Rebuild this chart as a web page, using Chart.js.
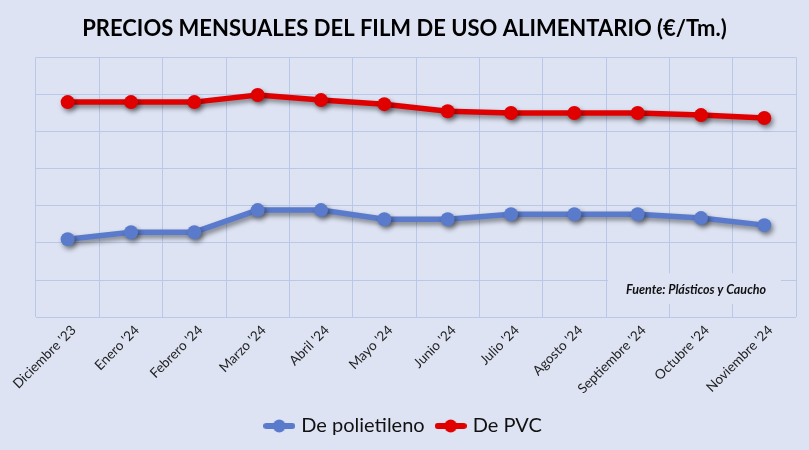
<!DOCTYPE html>
<html>
<head>
<meta charset="utf-8">
<script src="https://cdn.jsdelivr.net/npm/chart.js@4.4.0/dist/chart.umd.min.js"></script>
<style>
  html, body { margin: 0; padding: 0; background: #dde3f3; }
  #wrap { width: 809px; height: 450px; }
</style>
</head>
<body>
<div id="wrap"><canvas id="filmChart"></canvas></div>
<script>
// Months shown on the x axis
const months = ["Diciembre '23", "Enero '24", "Febrero '24", "Marzo '24", "Abril '24", "Mayo '24",
  "Junio '24", "Julio '24", "Agosto '24", "Septiembre '24", "Octubre '24", "Noviembre '24"];

// Prices (€/Tm.)
const polietileno = [420, 458, 458, 577, 577, 528, 528, 555, 555, 555, 534, 496];
const pvc = [1159, 1159, 1159, 1197, 1170, 1148, 1110, 1100, 1100, 1100, 1089, 1073];

const yMin = 0;
const yMax = 1400;
const yStep = 200;

const bg = '#dde3f3';
const blue = '#5a7acb';
const red = '#e00000';

// Small legend marker: thick line with a dot in the middle
function legendMarker(color) {
  const c = document.createElement('canvas');
  c.width = 32;
  c.height = 14;
  const g = c.getContext('2d');
  g.strokeStyle = color;
  g.lineWidth = 6;
  g.lineCap = 'round';
  g.beginPath();
  g.moveTo(3, 7);
  g.lineTo(29, 7);
  g.stroke();
  g.fillStyle = color;
  g.beginPath();
  g.arc(16, 7, 6.5, 0, Math.PI * 2);
  g.fill();
  return c;
}

// Soft shadow under the lines and markers
const shadowPlugin = {
  id: 'shadow',
  beforeDatasetsDraw(chart) {
    const ctx = chart.ctx;
    ctx.save();
    ctx.shadowColor = 'rgba(0,0,0,0.45)';
    ctx.shadowBlur = 5;
    ctx.shadowOffsetX = 2;
    ctx.shadowOffsetY = 3;
  },
  afterDatasetsDraw(chart) {
    chart.ctx.restore();
  }
};

// Source note drawn inside the plot area
const sourcePlugin = {
  id: 'source',
  afterDatasetsDraw(chart) {
    const ctx = chart.ctx;
    const area = chart.chartArea;
    ctx.save();
    ctx.fillStyle = bg;
    ctx.fillRect(area.right - 188, area.bottom - 44, 173, 31);
    ctx.fillStyle = '#111';
    ctx.font = 'italic bold 12.5px Lato';
    ctx.textBaseline = 'middle';
    ctx.fillText('Fuente: Plásticos y Caucho', area.right - 170, area.bottom - 27);
    ctx.restore();
  }
};

const ctx = document.getElementById('filmChart').getContext('2d');
new Chart(ctx, {
  type: 'line',
  data: {
    labels: months,
    datasets: [
      {
        label: 'De polietileno',
        data: polietileno,
        borderColor: blue,
        backgroundColor: blue,
        pointStyle: 'circle',
        borderWidth: 5.5,
        pointRadius: 7,
        pointHoverRadius: 7,
        pointBorderWidth: 0,
        tension: 0
      },
      {
        label: 'De PVC',
        data: pvc,
        borderColor: red,
        backgroundColor: red,
        pointStyle: 'circle',
        borderWidth: 5.5,
        pointRadius: 7,
        pointHoverRadius: 7,
        pointBorderWidth: 0,
        tension: 0
      }
    ]
  },
  options: {
    responsive: true,
    maintainAspectRatio: false,
    animation: false,
    layout: { padding: { left: 0, right: 0, top: 4, bottom: 4 } },
    scales: {
      x: {
        offset: true,
        grid: { color: '#b8c8e8', lineWidth: 1, offset: true, drawTicks: false },
        border: { display: false },
        ticks: {
          color: '#222',
          font: { family: 'Lato', size: 13.5 },
          minRotation: 45,
          maxRotation: 45,
          padding: 5,
          labelOffset: 6
        }
      },
      y: {
        min: yMin,
        max: yMax,
        grid: { color: '#b8c8e8', lineWidth: 1, drawTicks: false },
        border: { display: false },
        ticks: { stepSize: yStep, display: false },
        afterFit(scale) { scale.width = 36; }
      },
      yRight: {
        position: 'right',
        min: yMin,
        max: yMax,
        grid: { display: false },
        border: { display: false },
        ticks: { display: false },
        afterFit(scale) { scale.width = 13; }
      }
    },
    plugins: {
      title: {
        display: true,
        text: 'PRECIOS MENSUALES DEL FILM DE USO ALIMENTARIO (€/Tm.)',
        color: '#000',
        font: { family: 'Lato', size: 22, weight: 'bold' },
        padding: { top: 12, bottom: 15 }
      },
      legend: {
        position: 'bottom',
        labels: {
          color: '#111',
          font: { family: 'Lato', size: 20 },
          usePointStyle: true,
          pointStyleWidth: 24,
          padding: 14,
          generateLabels(chart) {
            return chart.data.datasets.map((ds, i) => ({
              text: ds.label,
              fontColor: '#111',
              pointStyle: legendMarker(ds.borderColor),
              datasetIndex: i,
              hidden: false,
              lineWidth: 0
            }));
          }
        }
      },
      tooltip: { enabled: false }
    }
  },
  plugins: [shadowPlugin, sourcePlugin]
});
</script>
</body>
</html>
